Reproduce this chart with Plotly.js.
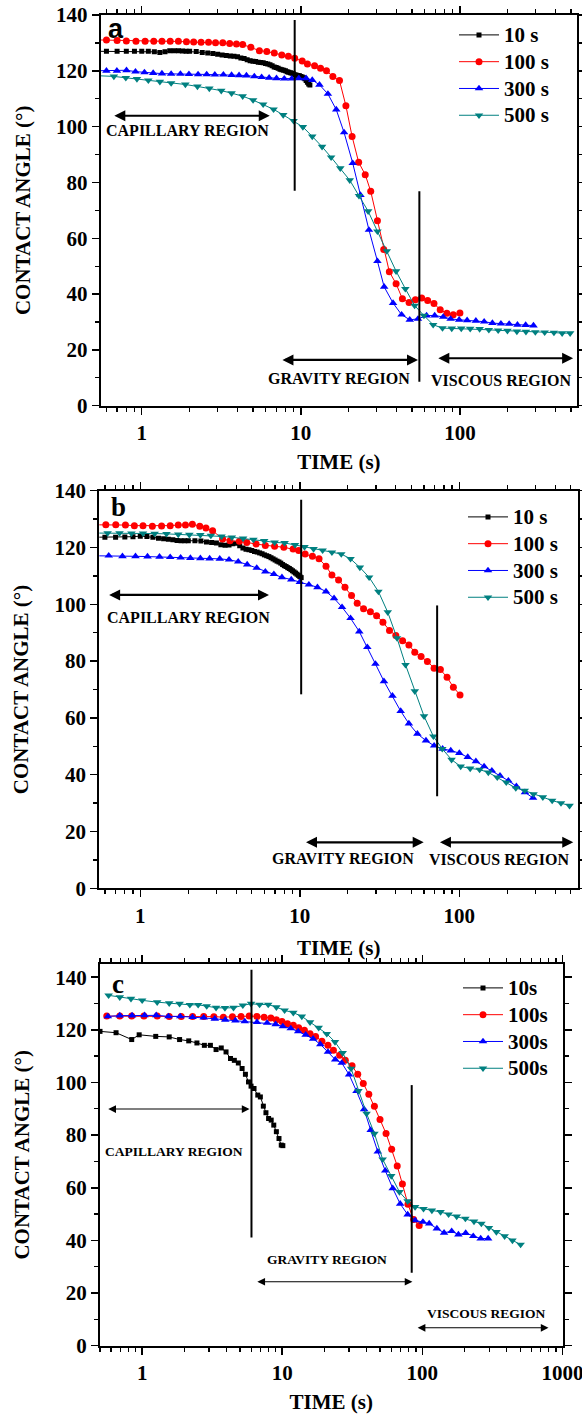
<!DOCTYPE html>
<html>
<head>
<meta charset="utf-8">
<script src="https://cdn.plot.ly/plotly-3.0.1.min.js"></script>
<style>html,body{margin:0;padding:0;background:#fff;}#chart{width:582px;height:1414px;}</style>
</head>
<body>
<div id="chart"></div>
<script>
// ---------------- DATA ----------------
const SERIES_NAMES_AB = ['10 s', '100 s', '300 s', '500 s'];
const SERIES_NAMES_C = ['10s', '100s', '300s', '500s'];

// Panel a
const A_T10 = [0.5,0.6,0.7,0.8,0.9,1.0,1.1,1.2,1.3,1.4,1.5,1.6,1.7,1.8,1.9,2.0,2.2,2.4,2.6,2.8,3.0,3.2,3.4,3.6,3.8,4.0,4.2,4.4,4.6,4.8,5.0,5.2,5.4,5.6,5.8,6.0,6.2,6.4,6.6,6.8,7.0,7.2,7.4,7.6,7.8,8.0,8.2,8.4,8.6,8.8,9.0,9.2,9.4,9.6,9.8,10.0,10.2,10.4,10.6,10.8,11.0,11.2,11.4];
const A_V10 = [127.0,127.0,127.0,127.0,127.0,127.0,127.0,126.8,126.6,126.8,127.2,127.2,127.2,127.1,127.0,127.0,126.9,126.6,126.4,126.2,125.9,125.7,125.5,125.3,125.2,125.0,124.6,124.4,124.0,123.6,123.4,123.3,123.1,123.0,122.9,122.6,122.4,122.2,121.8,121.4,121.2,120.9,120.6,120.4,120.2,120.0,119.7,119.5,119.3,119.1,118.9,118.6,118.4,118.3,118.2,118.0,117.8,117.5,117.2,116.5,115.9,115.3,114.9];
const A_T100 = [0.5,0.60,0.70,0.80,0.92,1.05,1.19,1.34,1.51,1.70,1.91,2.12,2.36,2.63,2.91,3.23,3.57,3.94,4.31,4.85,5.49,6.11,6.81,7.59,8.35,9.15,10.2,11.0,12.2,13.3,14.5,15.9,17.5,19.2,21.0,23.1,25.4,27.5,30.3,33.2,36.0,39.7,43.5,47.9,52.5,57.5,62.7,68.7,75.2,82.8,90.8,100];
const A_V100 = [131.1,131.0,130.9,130.7,130.6,130.6,130.6,130.6,130.6,130.6,130.4,130.3,130.2,130.2,130.1,130.1,129.8,129.6,129.4,128.4,127.2,126.9,126.4,125.7,125.2,124.5,123.5,122.4,121.8,120.9,120.0,118.0,116.5,107.5,96.5,87.2,82.8,76.8,66.3,56.0,48.0,43.7,38.3,37.0,38.0,38.6,37.7,36.6,34.4,33.1,32.6,33.2];
const A_T300 = [0.5,0.600,0.698,0.802,0.913,1.04,1.18,1.34,1.53,1.75,1.98,2.26,2.56,2.88,3.26,3.67,4.09,4.55,5.10,5.67,6.32,7.03,7.87,8.77,9.71,10.8,11.8,13.1,14.8,16.7,18.7,21.2,23.7,26.8,30.3,33.4,38.0,43.0,48.4,54.5,61.7,69.4,78.5,87.4,98.9,111,126,142,160,181,204,230,259,290];
const A_V300 = [120.0,120.0,120.0,120.2,119.7,119.4,119.2,119.0,118.9,118.9,118.8,118.7,118.7,118.6,118.6,118.5,118.4,118.3,118.0,117.7,117.5,117.3,117.2,117.2,117.3,117.3,116.7,115.0,111.7,106.1,97.9,86.9,75.5,63.0,51.8,42.6,36.8,32.6,30.8,31.1,32.3,32.3,31.8,31.1,30.8,30.6,30.4,30.1,29.6,29.4,29.3,29.0,28.9,28.7];
const A_T500 = [0.5,0.668,0.794,0.933,1.10,1.30,1.53,1.88,2.24,2.66,3.16,3.67,4.31,5.01,5.80,6.74,7.75,9.00,10.3,11.8,13.6,15.5,17.7,20.3,23.2,26.5,30.3,34.7,39.7,45.4,51.9,59.4,67.9,77.7,88.9,102,116,133,152,174,199,228,260,298,341,390,439,493];
const A_V500 = [118.3,118.0,117.5,117.1,116.6,116.1,115.6,115.1,114.4,113.7,112.9,112.0,110.9,109.5,108.0,106.2,104.2,102.1,99.9,96.5,92.8,89.0,85.1,80.8,75.2,69.7,62.5,55.4,48.2,41.9,35.9,32.3,29.0,27.8,27.7,27.7,27.6,27.5,27.2,27.0,26.9,26.6,26.5,26.4,26.3,26.2,26.0,26.0];

// Panel b
const B_T10 = [0.5,0.6,0.7,0.8,0.9,1.0,1.1,1.2,1.3,1.4,1.5,1.6,1.7,1.8,1.9,2.0,2.2,2.4,2.6,2.8,3.0,3.2,3.4,3.6,3.8,4.0,4.2,4.4,4.6,4.8,5.0,5.2,5.4,5.6,5.8,6.0,6.2,6.4,6.6,6.8,7.0,7.2,7.4,7.6,7.8,8.0,8.2,8.4,8.6,8.8,9.0,9.2,9.4,9.6,9.8,10.0,10.2];
const B_V10 = [123.6,123.6,123.6,123.7,123.8,124.0,123.9,123.6,123.3,123.1,122.9,122.7,122.5,122.4,122.4,122.4,122.4,122.3,121.9,121.8,121.6,121.0,120.8,120.9,121.3,121.5,120.6,119.8,119.4,119.2,118.9,118.6,118.4,118.1,117.8,117.4,117.1,116.8,116.4,116.0,115.6,115.2,114.9,114.5,114.0,113.6,113.3,112.9,112.6,112.2,111.8,111.4,111.0,110.6,110.2,109.8,109.4];
const B_T100 = [0.5,0.608,0.702,0.807,0.918,1.04,1.19,1.36,1.54,1.73,1.92,2.12,2.36,2.58,2.84,3.28,3.65,4.18,4.65,5.32,6.08,6.95,7.94,9.08,9.84,10.8,12.0,13.2,14.6,15.9,17.5,19.2,21.1,22.9,25.1,27.7,30.3,33.2,36.5,40.0,44.1,48.3,52.6,57.6,63.1,69.5,76.1,83.8,91.8,101];
const B_V100 = [128.0,128.0,128.0,127.9,127.7,127.7,127.5,127.6,127.7,127.9,127.9,128.2,127.5,126.9,125.9,123.0,122.4,122.2,121.8,121.2,120.7,120.4,120.1,119.5,118.9,117.7,116.9,116.0,113.4,110.3,108.6,106.0,103.1,100.4,98.4,97.4,96.0,93.7,90.8,89.0,87.2,85.7,83.1,81.6,79.9,77.5,77.0,74.3,70.8,68.1];
const B_T300 = [0.5,0.634,0.773,0.933,1.11,1.32,1.54,1.79,2.06,2.38,2.72,3.15,3.60,4.11,4.68,5.37,6.08,6.88,7.73,8.84,10.0,11.4,12.9,14.6,16.4,18.4,20.8,23.6,26.5,29.8,33.7,38.1,42.9,48.3,54.6,61.8,69.5,78.6,88.4,100,113,127,143,160,180,203,228,258,290];
const B_V300 = [117.1,117.1,116.9,116.9,116.8,116.7,116.6,116.4,116.3,116.2,116.1,116.0,115.7,115.0,114.0,112.8,111.5,110.6,109.5,108.7,107.8,106.9,106.0,104.5,102.1,99.0,95.1,90.4,84.9,79.0,72.9,67.8,62.4,58.0,54.4,52.0,50.2,49.1,48.5,47.6,46.2,44.7,42.9,41.4,39.6,37.9,35.9,33.8,31.8];
const B_T500 = [0.5,0.624,0.741,0.880,1.04,1.23,1.46,1.73,2.03,2.38,2.77,3.23,3.75,4.41,5.12,5.98,6.95,8.03,9.33,10.7,12.2,13.9,15.9,18.2,20.8,23.8,27.2,31.1,35.6,40.7,46.0,52.6,60.1,68.8,78.2,89.4,102,117,134,152,173,197,226,257,292,334,382,434,491];
const B_V500 = [125.1,125.1,125.1,125.0,125.0,124.9,124.8,124.6,124.5,124.4,124.2,123.9,123.6,123.2,122.8,122.3,121.8,121.6,120.9,120.2,119.5,119.0,118.3,117.7,116.0,113.0,109.5,104.5,97.2,88.1,78.7,69.4,60.6,53.5,49.1,45.3,42.9,42.2,41.8,40.8,39.1,37.3,35.3,34.4,33.2,32.1,30.9,30.0,29.1];

// Panel c
const C_T10 = [0.5,0.651,0.842,0.952,1.25,1.56,1.85,2.15,2.46,2.78,3.07,3.37,3.67,3.97,4.27,4.55,4.86,5.17,5.46,5.74,5.99,6.29,6.69,6.98,7.33,7.65,7.99,8.34,8.70,9.08,9.48,9.84,10.1];
const C_V10 = [119.4,118.9,116.3,118.1,117.5,117.3,116.3,115.8,115.0,114.1,114.1,112.5,113.1,111.6,109.1,108.4,107.4,105.3,103.1,100.2,98.6,97.7,95.2,94.5,91.0,88.5,86.3,85.7,83.8,81.3,78.7,76.2,76.0];
const C_T100 = [0.559,0.692,0.842,1.03,1.28,1.56,1.90,2.29,2.75,3.25,3.80,4.41,5.08,5.81,6.60,7.42,8.29,9.08,9.96,10.9,12.0,13.1,14.4,15.8,17.3,19.2,21.2,23.2,25.7,28.2,31.5,34.6,37.9,41.5,45.5,49.9,55.1,60.4,66.2,72.1,79.0,86.7,95.0];
const C_V100 = [125.2,125.2,125.2,125.2,125.2,125.1,125.1,125.1,125.1,125.0,124.8,125.0,125.1,125.2,125.1,124.8,124.5,123.8,123.2,122.3,121.7,120.8,119.8,118.5,117.5,115.7,114.1,112.2,110.3,108.4,106.3,103.1,99.6,95.5,91.0,85.9,80.6,74.6,68.3,61.4,53.7,47.9,45.7];
const C_T300 = [0.569,0.692,0.847,1.04,1.26,1.54,1.87,2.29,2.75,3.30,3.92,4.63,5.40,6.60,7.80,8.97,10.1,11.5,13.0,14.7,16.6,18.7,21.2,23.9,26.6,30.0,33.9,38.4,42.8,48.1,54.4,61.5,69.5,78.6,88.8,101,112,127,143,162,181,204,231,261,295];
const C_V300 = [125.1,125.4,125.4,125.5,125.5,125.1,125.1,124.8,124.6,124.2,123.8,123.5,123.2,122.9,122.6,122.1,121.3,120.5,119.4,118.1,116.6,114.5,111.6,108.7,107.4,103.0,96.7,89.8,81.9,73.7,66.5,59.8,53.9,49.8,47.6,47.0,46.4,44.5,42.9,43.5,42.2,42.8,41.6,40.7,40.7];
const C_T500 = [0.576,0.692,0.832,1.0,1.28,1.56,1.85,2.19,2.51,2.89,3.37,3.90,4.49,5.23,5.99,6.89,7.94,9.08,10.4,12.0,13.8,15.8,18.2,20.8,23.8,27.0,31.0,35.0,40.0,45.5,52.1,60.0,68.7,78.6,88.8,102,117,135,154,176,203,234,264,299,338,387,440,503];
const C_V500 = [133.1,132.4,131.8,131.2,130.5,130.1,129.9,129.5,129.5,129.0,128.4,128.3,128.4,129.3,129.9,129.6,129.6,128.6,127.4,126.5,125.1,122.9,120.8,118.5,115.4,111.2,105.3,96.8,88.2,80.6,70.8,64.5,58.4,54.9,52.7,52.0,51.4,50.8,49.9,49.1,48.3,47.2,46.4,44.8,43.2,41.6,40.0,38.4];

// Tick labels
const X_TICKS_AB = [1, 10, 100];
const X_TICKS_C = [1, 10, 100, 1000];
const X_MINOR_AB = [0.6,0.7,0.8,0.9,2,3,4,5,6,7,8,9,20,30,40,50,60,70,80,90,200,300,400,500];
const X_MINOR_C = [0.5,0.6,0.7,0.8,0.9,2,3,4,5,6,7,8,9,20,30,40,50,60,70,80,90,200,300,400,500,600,700,800,900];
const Y_TICKS = [0, 20, 40, 60, 80, 100, 120, 140];

// Region markers (time, angle) per panel
const REGION_LINES = {
  a: [[9.15, 77, 138.2], [55.6, 8.6, 76.8]],
  b: [[10.2, 68.3, 136.8], [72.6, 32.4, 99.6]],
  c: [[6.03, 41.1, 142.8], [84, 27.7, 99]]
};
const REGION_ARROWS = {
  a: [[0.658, 6.38, 103.9], [7.5, 54.5, 16.4], [71.6, 515, 17.0]],
  b: [[0.624, 6.41, 103.3], [10.7, 59.8, 16.2], [74, 518, 16.2]],
  c: [[0.559, 5.84, 89.9], [6.48, 85, 24.3], [90.4, 796, 6.8]]
};
const REGION_TEXT = ['CAPILLARY REGION', 'GRAVITY REGION', 'VISCOUS REGION'];
const REGION_TEXT_POS = {
  a: [[1.93, 98.5], [17.4, 9.6], [180, 9.2]],
  b: [[2.0, 95.5], [18.7, 10.4], [177, 10.0]],
  c: [[1.68, 73.9], [20.8, 32.7], [286, 12.3]]
};
const PANEL_LABELS = [['a', 0.69, 134.9], ['b', 0.73, 134.1], ['c', 0.67, 137.5]];

// ---------------- STYLE / BUILD ----------------
const SERIF = 'Liberation Serif, Times New Roman, serif';
const COLORS = ['#000000', '#ff0000', '#0000ff', '#008080'];
const SYMBOLS = ['square', 'circle', 'triangle-up', 'triangle-down'];
const SIZES = [5, 7, 7.5, 7.5];

const panels = [
  {key: 'a', xa: 'x', ya: 'y', legend: 'legend', names: SERIES_NAMES_AB,
   data: [[A_T10, A_V10], [A_T100, A_V100], [A_T300, A_V300], [A_T500, A_V500]]},
  {key: 'b', xa: 'x2', ya: 'y2', legend: 'legend2', names: SERIES_NAMES_AB,
   data: [[B_T10, B_V10], [B_T100, B_V100], [B_T300, B_V300], [B_T500, B_V500]]},
  {key: 'c', xa: 'x3', ya: 'y3', legend: 'legend3', names: SERIES_NAMES_C,
   data: [[C_T10, C_V10], [C_T100, C_V100], [C_T300, C_V300], [C_T500, C_V500]]}
];

const traces = [];
panels.forEach(p => {
  p.data.forEach((d, i) => {
    traces.push({
      type: 'scatter', mode: 'lines+markers', x: d[0], y: d[1],
      name: '<span style="font-size:21px">' + p.names[i] + '</span>',
      xaxis: p.xa, yaxis: p.ya, legend: p.legend,
      line: {color: COLORS[i], width: 1},
      marker: {color: COLORS[i], symbol: SYMBOLS[i], size: SIZES[i], line: {width: 0}}
    });
  });
});

const W = 582, H = 1414;
function yDom(topPx, botPx) { return [1 - botPx / H, 1 - topPx / H]; }

const tickFont = {family: SERIF, size: 21, color: '#000', weight: 'bold'};
const titleFont = {family: SERIF, size: 21, color: '#000', weight: 'bold'};

function xAxis(dom, range, ticks, minor, anchor, standoff) {
  return {
    domain: dom, anchor: anchor, type: 'log', range: range,
    tickmode: 'array', tickvals: ticks, ticktext: ticks.map(String),
    ticks: 'outside', ticklen: 7, tickwidth: 1.5, tickcolor: '#000', ticklabeloverflow: 'allow',
    minor: {tickmode: 'array', tickvals: minor, ticks: 'outside', ticklen: 4, tickwidth: 1.3, tickcolor: '#000', showgrid: false},
    showline: true, linecolor: '#000', linewidth: 2, mirror: 'ticks',
    showgrid: false, zeroline: false, tickfont: tickFont,
    title: {text: 'TIME (s)', font: titleFont, standoff: standoff}
  };
}
function yAxis(dom, range, anchor) {
  return {
    domain: dom, anchor: anchor, range: range,
    tickmode: 'array', tickvals: Y_TICKS, ticktext: Y_TICKS.map(String),
    ticks: 'outside', ticklen: 7, tickwidth: 1.5, tickcolor: '#000',
    minor: {tickmode: 'linear', tick0: 0, dtick: 10, ticks: 'outside', ticklen: 4, tickwidth: 1.3, tickcolor: '#000', showgrid: false},
    showline: true, linecolor: '#000', linewidth: 2, mirror: 'ticks',
    showgrid: false, zeroline: false, tickfont: tickFont,
    title: {text: 'CONTACT ANGLE (°)', font: titleFont, standoff: 20}
  };
}

const legendBase = {
  xanchor: 'left', yanchor: 'top', bgcolor: 'rgba(0,0,0,0)', borderwidth: 0,
  font: {family: SERIF, size: 18.3, color: '#000', weight: 'bold'}, itemwidth: 40, tracegroupgap: 0
};

const layout = {
  width: W, height: H, margin: {l: 0, r: 0, t: 0, b: 0},
  paper_bgcolor: '#fff', plot_bgcolor: '#fff', showlegend: true,
  xaxis: xAxis([100.7 / W, 577 / W], [-0.258, 2.736], X_TICKS_AB, X_MINOR_AB, 'y', 10),
  yaxis: yAxis(yDom(15, 405.7), [0, 140], 'x'),
  xaxis2: xAxis([99.3 / W, 578.3 / W], [-0.257, 2.746], X_TICKS_AB, X_MINOR_AB, 'y2', 14),
  yaxis2: yAxis(yDom(490.7, 888.3), [0, 140], 'x2'),
  xaxis3: xAxis([100 / W, 562.5 / W], [-0.301, 3.0008], X_TICKS_C, X_MINOR_C, 'y3', 14),
  yaxis3: yAxis(yDom(964, 1345.7), [0, 145], 'x3'),
  legend: Object.assign({}, legendBase, {x: 454 / W, y: 1 - 16.5 / H}),
  legend2: Object.assign({}, legendBase, {x: 463 / W, y: 1 - 498.5 / H}),
  legend3: Object.assign({}, legendBase, {x: 458 / W, y: 1 - 969.5 / H}),
  shapes: [], annotations: []
};

const axMap = {a: ['x', 'y'], b: ['x2', 'y2'], c: ['x3', 'y3']};
['a', 'b', 'c'].forEach(k => {
  const [xr, yr] = axMap[k];
  REGION_LINES[k].forEach(l => {
    layout.shapes.push({type: 'line', xref: xr, yref: yr, x0: l[0], x1: l[0], y0: l[1], y1: l[2],
      line: {color: '#000', width: 2}});
  });
  const thin = k === 'c';
  REGION_ARROWS[k].forEach(a => {
    layout.annotations.push({xref: xr, yref: yr, axref: xr, ayref: yr,
      x: Math.log10(a[1]), y: a[2], ax: Math.log10(a[0]), ay: a[2], text: '',
      showarrow: true, arrowside: 'end+start', arrowhead: 2, startarrowhead: 2,
      arrowsize: thin ? 1.4 : 1, startarrowsize: thin ? 1.4 : 1,
      arrowwidth: thin ? 1.1 : 2.2, arrowcolor: '#000'});
  });
  REGION_TEXT_POS[k].forEach((pos, i) => {
    layout.annotations.push({xref: xr, yref: yr, x: Math.log10(pos[0]), y: pos[1],
      text: REGION_TEXT[i], showarrow: false, xanchor: 'center', yanchor: 'middle',
      font: {family: SERIF, size: thin ? 13.5 : 16, color: '#000', weight: 'bold'}});
  });
});
PANEL_LABELS.forEach((pl, i) => {
  const [xr, yr] = axMap[pl[0]];
  layout.annotations.push({xref: xr, yref: yr, x: Math.log10(pl[1]), y: pl[2], text: pl[0],
    showarrow: false, xanchor: 'center', yanchor: 'middle',
    font: {family: i === 0 ? 'Liberation Sans' : SERIF, size: 27, color: '#000', weight: 'bold'}});
});

Plotly.newPlot('chart', traces, layout, {staticPlot: true, displayModeBar: false});
</script>
</body>
</html>
